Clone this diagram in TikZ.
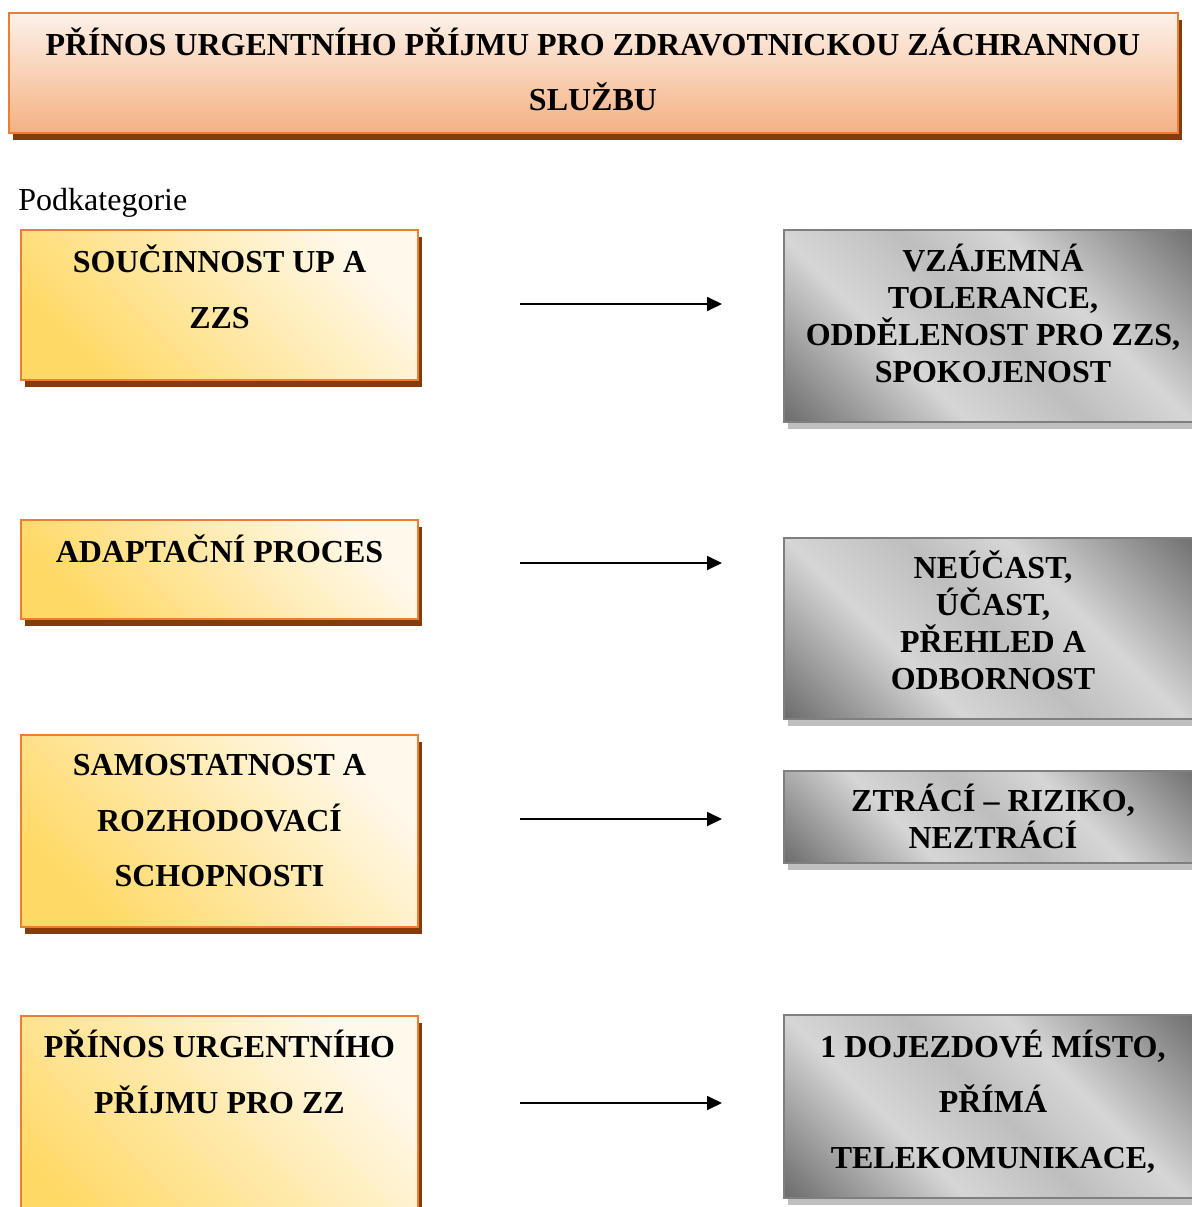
\documentclass[tikz,border=0pt]{standalone}
\usepackage{fontspec}
\setmainfont{Liberation Serif}
\usepackage{tikz}
\usetikzlibrary{arrows.meta,shadows,fit}

\definecolor{oranzova}{HTML}{ED7D31}
\definecolor{hneda}{HTML}{843C0C}
\definecolor{broskevA}{HTML}{FDF1E9}
\definecolor{broskevB}{HTML}{F4B183}
\definecolor{zlutaA}{HTML}{FFD966}
\definecolor{zlutaB}{HTML}{FFF9EC}
\definecolor{sedaR}{HTML}{7F7F7F}
\definecolor{sedaS}{HTML}{BFBFBF}
\definecolor{kovA}{HTML}{6E6E6E}
\definecolor{kovB}{HTML}{D6D6D6}
\definecolor{kovC}{HTML}{BEBEBE}
\pgfdeclareverticalshading{kov}{100bp}{color(0bp)=(kovA); color(15bp)=(kovA);
  color(36bp)=(kovB); color(50bp)=(kovC); color(62bp)=(kovB); color(85bp)=(kovA);
  color(100bp)=(kovA)}

\begin{document}
\begin{tikzpicture}[
  x=0.5pt, y=-0.5pt,
  font=\fontsize{16}{18.4}\selectfont\bfseries,
  stin/.style={general shadow={fill=#1, shadow xshift=2pt, shadow yshift=-3.5pt}},
  nadpisbox/.style={draw=oranzova, line width=1pt, inner sep=0,
    top color=broskevA, bottom color=broskevB, stin=hneda},
  ybox/.style={draw=oranzova, line width=1pt, inner sep=0,
    bottom color=zlutaA, top color=zlutaB, shading angle=-45, stin=hneda},
  gbox/.style={draw=sedaR, line width=1pt, inner sep=0,
    shading=kov, shading angle=-45, stin=sedaS},
  % base = uctari posledniho radku
  dvojtxt/.style={align=center, anchor=base, inner sep=0,
    font=\fontsize{16}{27.75}\selectfont\bfseries},
  txt/.style={align=center, anchor=base, inner sep=0},
  sipka/.style={-{Triangle[length=7.5pt,width=7pt]}, line width=0.9pt},
]
\useasboundingbox (0,0) rectangle (1192,1207);
\clip (0,0) rectangle (1192,1207);
% --- nadpis ---
\node[nadpisbox, fit={(9,13) (1178,133)}] (nadpis) {};
\node[dvojtxt] (nadpistxt) at (593,110.5)
  {PŘÍNOS URGENTNÍHO PŘÍJMU PRO ZDRAVOTNICKOU ZÁCHRANNOU\\SLUŽBU};
\node[anchor=base west, inner sep=0, font=\fontsize{16}{18.4}\selectfont] (podk)
  at (18,210) {Podkategorie};
% ===================== RADEK 1 =====================
\node[ybox, fit={(21,230) (418,380)}] (y1) {};
\node[dvojtxt] (y1txt) at (219.5,328) {SOUČINNOST UP A\\ZZS};
\node[gbox, fit={(784,230) (1202,422)}] (g1) {};
\node[txt] (g1txt) at (993,382)
  {VZÁJEMNÁ\\TOLERANCE,\\ODDĚLENOST PRO ZZS,\\SPOKOJENOST};
\coordinate (s1a) at (520,304);
\coordinate (s1b) at (722,304);
\draw[sipka] (s1a) -- (s1b);
% ===================== RADEK 2 =====================
\node[ybox, fit={(21,520) (418,619)}] (y2) {};
\node[dvojtxt] (y2txt) at (219.5,562.5) {ADAPTAČNÍ PROCES};
\node[gbox, fit={(784,538) (1202,719)}] (g2) {};
\node[txt] (g2txt) at (993,689)
  {NEÚČAST,\\ÚČAST,\\PŘEHLED A\\ODBORNOST};
\coordinate (s2a) at (520,563);
\coordinate (s2b) at (722,563);
\draw[sipka] (s2a) -- (s2b);
% ===================== RADEK 3 =====================
\node[ybox, fit={(21,735) (418,927)}] (y3) {};
\node[dvojtxt] (y3txt) at (219.5,886.5)
  {SAMOSTATNOST A\\ROZHODOVACÍ\\SCHOPNOSTI};
\node[gbox, fit={(784,771) (1202,863)}] (g3) {};
\node[txt] (g3txt) at (993,848) {ZTRÁCÍ – RIZIKO,\\NEZTRÁCÍ};
\coordinate (s3a) at (520,819);
\coordinate (s3b) at (722,819);
\draw[sipka] (s3a) -- (s3b);
% ===================== RADEK 4 =====================
\node[ybox, fit={(21,1016) (418,1250)}] (y4) {};
\node[dvojtxt] (y4txt) at (219.5,1113) {PŘÍNOS URGENTNÍHO\\PŘÍJMU PRO ZZ};
\node[gbox, fit={(784,1015) (1202,1198)}] (g4) {};
\node[dvojtxt] (g4txt) at (993,1168)
  {1 DOJEZDOVÉ MÍSTO,\\PŘÍMÁ\\TELEKOMUNIKACE,};
\coordinate (s4a) at (520,1103);
\coordinate (s4b) at (722,1103);
\draw[sipka] (s4a) -- (s4b);
\end{tikzpicture}
\end{document}
